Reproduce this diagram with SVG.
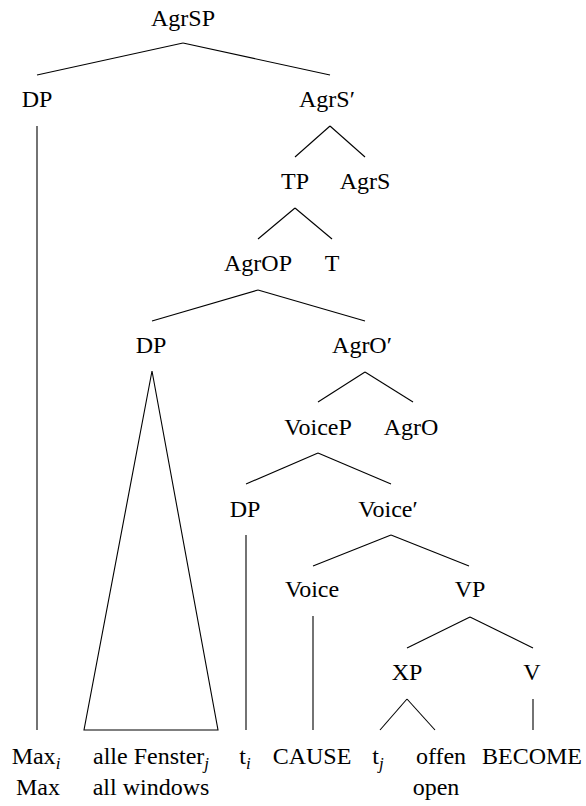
<svg xmlns="http://www.w3.org/2000/svg" width="586" height="806" viewBox="0 0 586 806">
<style>
text{font-size:24px;fill:#000;text-anchor:middle}
.sub{font-style:italic;font-size:17px}
.edges line,.edges polygon{stroke:#000;stroke-width:1.1;fill:none}
</style>
<rect width="586" height="806" fill="#fff"/>
<g class="edges" id="connectors">
<line x1="183" y1="43" x2="37" y2="75"/>
<line x1="183" y1="43" x2="330" y2="75"/>
<line x1="37" y1="126" x2="37" y2="730"/>
<line x1="330" y1="126" x2="295" y2="157"/>
<line x1="330" y1="126" x2="365" y2="157"/>
<line x1="295" y1="208" x2="258" y2="239"/>
<line x1="295" y1="208" x2="332" y2="239"/>
<line x1="258" y1="290" x2="152" y2="321"/>
<line x1="258" y1="290" x2="365" y2="321"/>
<polygon points="152,371 84,730 218,730"/>
<line x1="365" y1="372" x2="318" y2="402"/>
<line x1="365" y1="372" x2="413" y2="402"/>
<line x1="318" y1="453" x2="246" y2="484"/>
<line x1="318" y1="453" x2="391" y2="484"/>
<line x1="246" y1="535" x2="246" y2="730"/>
<line x1="391" y1="535" x2="313" y2="566"/>
<line x1="391" y1="535" x2="469" y2="566"/>
<line x1="313" y1="616" x2="313" y2="730"/>
<line x1="470" y1="617" x2="407" y2="648"/>
<line x1="470" y1="617" x2="533" y2="648"/>
<line x1="407" y1="699" x2="380" y2="730"/>
<line x1="407" y1="699" x2="435" y2="730"/>
<line x1="533" y1="699" x2="533" y2="730"/>
</g>
<g id="labels" font-family="Liberation Serif, DejaVu Serif, serif">
<g id="n-agrsp"><text x="183" y="26">AgrSP</text></g>
<g id="n-dp1"><text x="37" y="107">DP</text></g>
<g id="n-agrs-bar"><text x="327" y="107">AgrS′</text></g>
<g id="n-tp"><text x="295" y="189">TP</text></g>
<g id="n-agrs"><text x="365" y="189">AgrS</text></g>
<g id="n-agrop"><text x="258" y="271">AgrOP</text></g>
<g id="n-t"><text x="332" y="271">T</text></g>
<g id="n-dp2"><text x="151" y="353">DP</text></g>
<g id="n-agro-bar"><text x="362" y="353">AgrO′</text></g>
<g id="n-voicep"><text x="318" y="435">VoiceP</text></g>
<g id="n-agro"><text x="411" y="435">AgrO</text></g>
<g id="n-dp3"><text x="245" y="517">DP</text></g>
<g id="n-voice-bar"><text x="388" y="517">Voice′</text></g>
<g id="n-voice"><text x="312" y="597">Voice</text></g>
<g id="n-vp"><text x="470" y="597">VP</text></g>
<g id="n-xp"><text x="407" y="680">XP</text></g>
<g id="n-v"><text x="532" y="680">V</text></g>
<g id="leaf-max"><text x="36" y="764">Max<tspan class="sub" dy="5">i</tspan></text><text x="38" y="795">Max</text></g>
<g id="leaf-fenster"><text x="151" y="764">alle Fenster<tspan class="sub" dy="5">j</tspan></text><text x="151" y="795">all windows</text></g>
<g id="leaf-ti"><text x="245" y="764">t<tspan class="sub" dy="5">i</tspan></text></g>
<g id="leaf-cause"><text x="312" y="764">CAUSE</text></g>
<g id="leaf-tj"><text x="378" y="764">t<tspan class="sub" dy="5">j</tspan></text></g>
<g id="leaf-offen"><text x="441" y="764">offen</text><text x="436" y="795">open</text></g>
<g id="leaf-become"><text x="532" y="764">BECOME</text></g>
</g>
</svg>
